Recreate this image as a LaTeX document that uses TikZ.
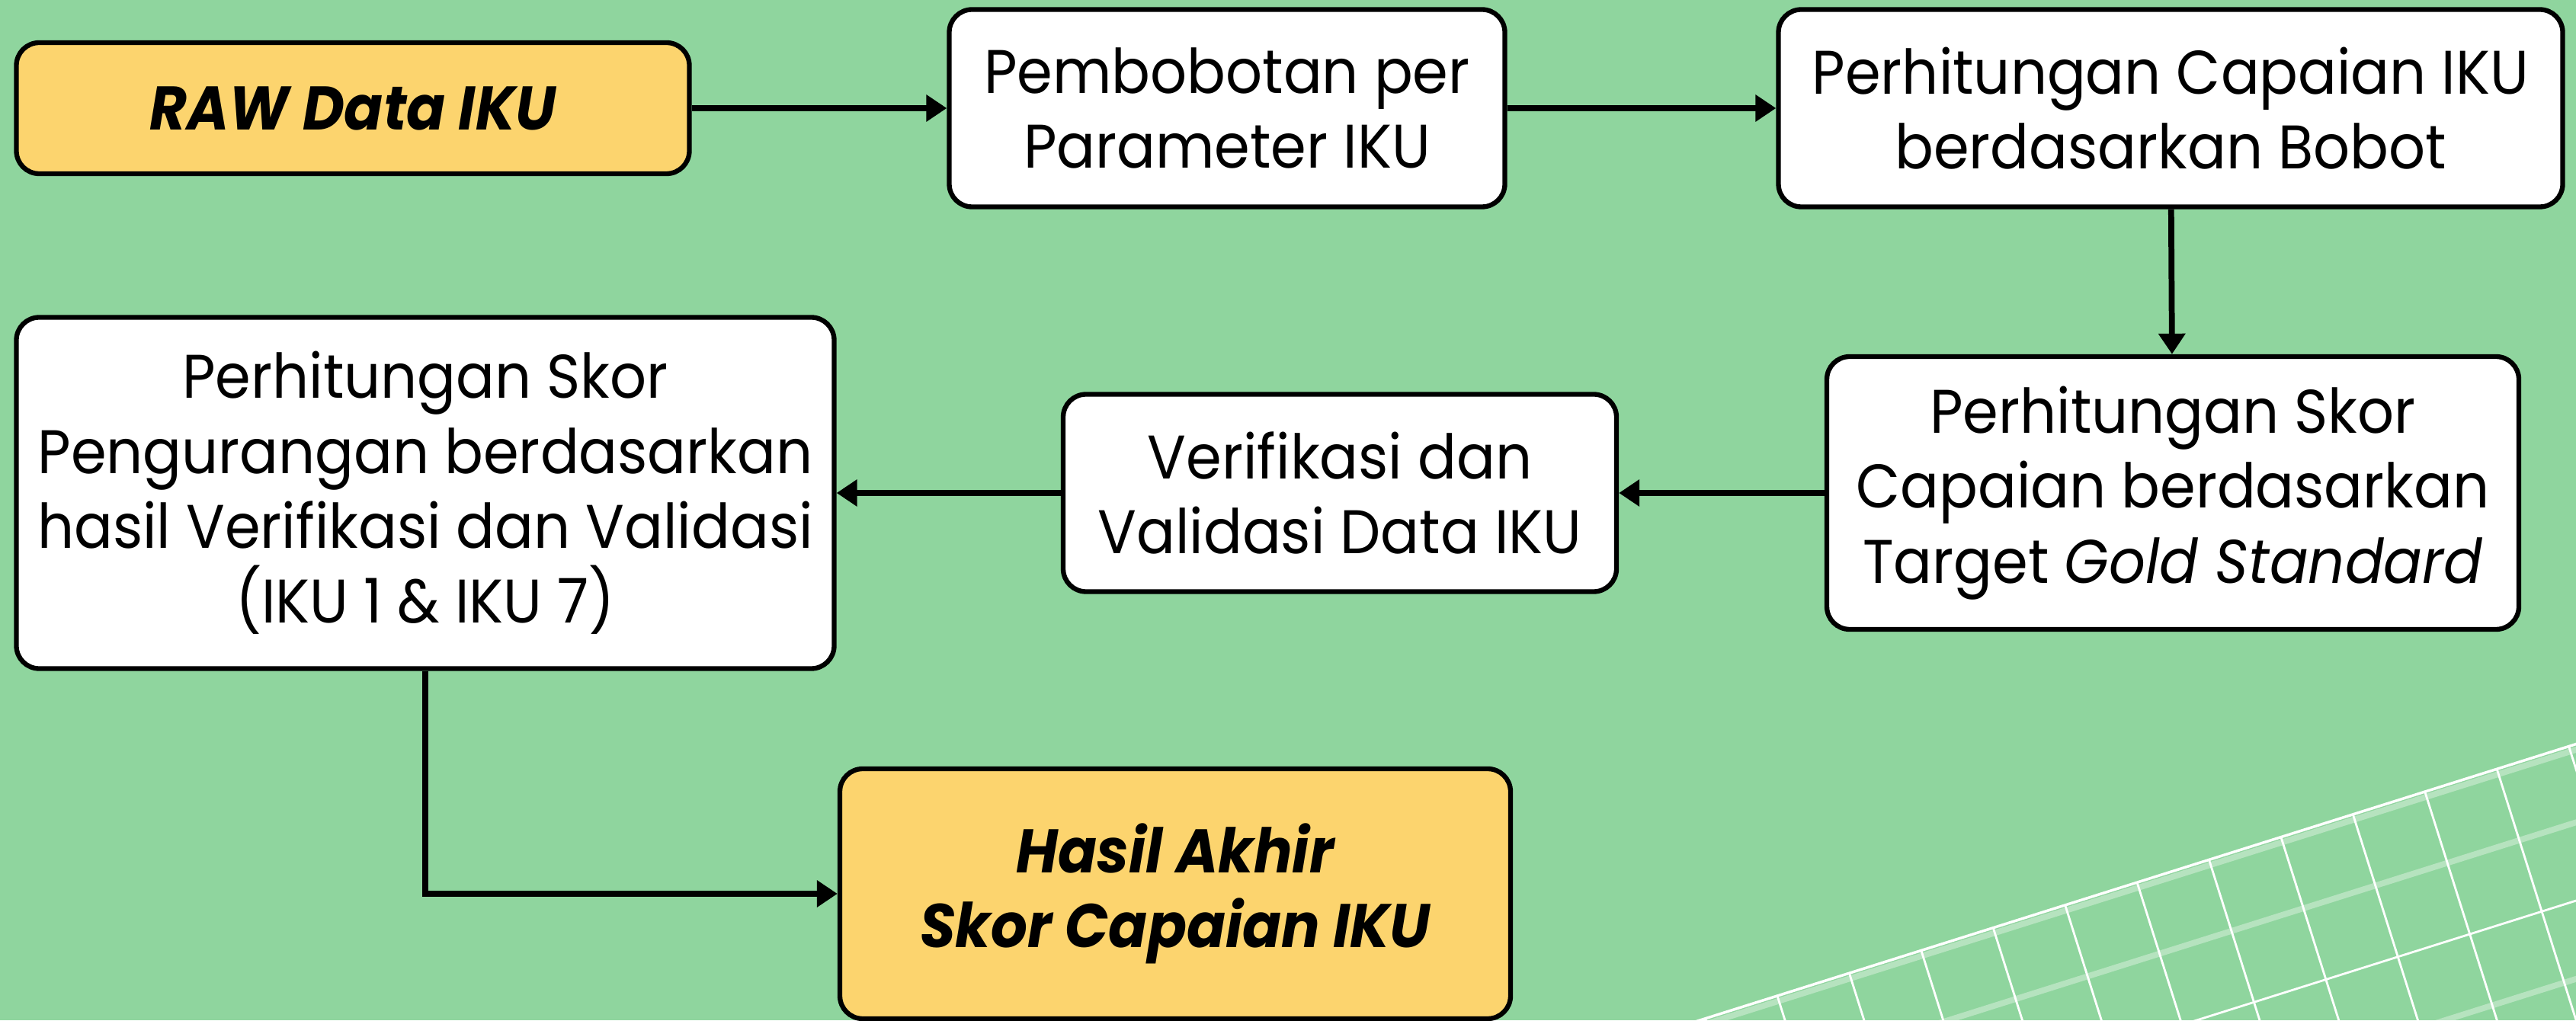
\documentclass[tikz,border=0pt]{standalone}
\usepackage{fontspec}
\setmainfont[FakeStretch=0.93]{Poppins}
\usepackage{tikz}
\usetikzlibrary{arrows.meta}
\definecolor{bggreen}{RGB}{143,213,158}
\definecolor{boxyellow}{RGB}{252,212,110}
\tikzset{
  box/.style={draw=black, line width=1.8pt, rounded corners=0.3cm, fill=white,
    align=center, inner sep=0pt, font=\fontsize{23}{28}\selectfont},
  hilite/.style={box, fill=boxyellow, font=\fontsize{23}{28}\selectfont\bfseries\itshape},
  arr/.style={line width=2.2pt, -{Triangle[length=0.27cm,width=0.34cm]}},
  meshline/.style={white, line width=0.8pt},
  meshglow/.style={white, opacity=0.35, line width=2.2pt},
}

\begin{document}
\begin{tikzpicture}
    \fill[bggreen] (0,0) rectangle (33.80,13.39);
    \useasboundingbox (0,0) rectangle (33.80,13.39);

    % mesh in the lower right corner
    \begin{scope}
        \clip (0,0) rectangle (33.80,13.39);
        \begin{scope}[shift={(23.32,0.32)}, rotate=17.5]
            \foreach \u in {-2,...,12}{
                \draw[meshline] (\u*0.99,0) -- (\u*0.99,-6);
                };
            \foreach \v in {1,3,5}{
                \draw[meshglow] (-3,-\v*0.98) -- (14,-\v*0.98);
                };
            \foreach \v in {2,4}{
                \draw[meshline] (-3,-\v*0.98) -- (14,-\v*0.98);
                };
            \draw[meshglow] (-3,-0.07) -- (14,-0.07);
            \draw[meshline, line width=1pt] (-3,0) -- (14,0);
        \end{scope}
    \end{scope}

    \node[hilite, minimum width=8.83cm, minimum height=1.72cm]  (raw)    at ( 4.63,11.97) {RAW Data IKU};
    \node[box, minimum width=7.29cm, minimum height=2.59cm]     (bobot)  at (16.10,11.97) {Pembobotan per\\Parameter IKU};
    \node[box, minimum width=10.29cm, minimum height=2.59cm]    (hitung) at (28.48,11.97) {Perhitungan Capaian IKU\\berdasarkan Bobot};
    \node[box, minimum width=9.08cm, minimum height=3.58cm]     (skor)   at (28.51, 6.92) {Perhitungan Skor\\Capaian berdasarkan\\Target \textit{Gold Standard}};
    \node[box, minimum width=7.26cm, minimum height=2.59cm]     (verif)  at (17.58, 6.92) {Verifikasi dan\\Validasi Data IKU};
    \node[box, minimum width=10.73cm, minimum height=4.61cm]    (kurang) at ( 5.58, 6.92) {Perhitungan Skor\\Pengurangan berdasarkan\\hasil Verifikasi dan Validasi\\(IKU 1 \& IKU 7)};
    \node[hilite, minimum width=8.80cm, minimum height=3.28cm]  (hasil)  at (15.42, 1.66) {Hasil Akhir\\Skor Capaian IKU};

    \foreach \a/\b in {raw/bobot, bobot/hitung, hitung/skor, skor/verif, verif/kurang}{
        \draw[arr] (\a) -- (\b);
        };
    \draw[arr] (kurang.south) |- (hasil.west);
\end{tikzpicture}
\end{document}
